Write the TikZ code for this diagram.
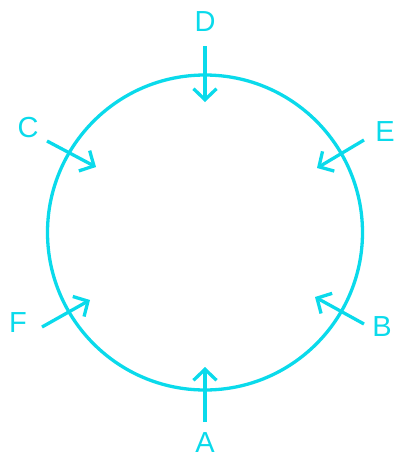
\documentclass[tikz,border=0pt]{standalone}
\usepackage{fontspec}
\setmainfont{Liberation Sans}
\usetikzlibrary{arrows.meta}
\definecolor{cy}{RGB}{10,218,235}
\begin{document}
\begin{tikzpicture}[x=1pt,y=-1pt,
  lbl/.style={text=cy,font=\fontsize{29}{29}\selectfont,inner sep=0pt},
  arr/.style={draw=cy,line width=3.3pt,-{Straight Barb[length=11pt,width=23pt,line width=3.3pt]}}]
\useasboundingbox (0,0) rectangle (394,459);
\draw[cy,line width=3.3pt] (205,232.5) circle[radius=157.5];
% labels
\node[lbl] (D) at (205,22) {D};
\node[lbl] (C) at (28,128) {C};
\node[lbl] (E) at (385,132) {E};
\node[lbl] (F) at (18,323) {F};
\node[lbl] (B) at (382,327) {B};
\node[lbl] (A) at (205,443) {A};
% arrow ends
\coordinate (d1) at (205,46); \coordinate (d2) at (205,102);
\coordinate (c1) at (47,141); \coordinate (c2) at (96,167);
\coordinate (e1) at (364,140); \coordinate (e2) at (317,168);
\coordinate (f1) at (42,327); \coordinate (f2) at (90,300);
\coordinate (b1) at (364,324); \coordinate (b2) at (315,297);
\coordinate (a1) at (205,422); \coordinate (a2) at (205,367);
\draw[arr] (d1) -- (d2);
\draw[arr] (c1) -- (c2);
\draw[arr] (e1) -- (e2);
\draw[arr] (f1) -- (f2);
\draw[arr] (b1) -- (b2);
\draw[arr] (a1) -- (a2);
\end{tikzpicture}
\end{document}
